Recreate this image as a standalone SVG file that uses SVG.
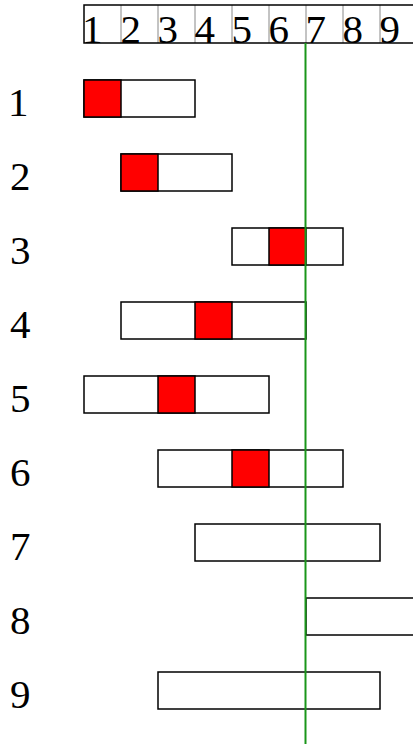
<svg xmlns="http://www.w3.org/2000/svg" width="413" height="744" viewBox="0 0 413 744">
<style>
.t{font-family:"Liberation Serif","Times New Roman",serif;font-size:41px;fill:#000}
.hd{fill:none;stroke:#888;stroke-width:1}
.bx{fill:#fff;stroke:#000;stroke-width:1.5}
.rd{fill:#ff0000;stroke:#000;stroke-width:1.5}
</style>
<rect width="413" height="744" fill="#fff"/>
<g id="header">
<line x1="121" y1="5" x2="121" y2="43" class="hd"/>
<line x1="158" y1="5" x2="158" y2="43" class="hd"/>
<line x1="195" y1="5" x2="195" y2="43" class="hd"/>
<line x1="232" y1="5" x2="232" y2="43" class="hd"/>
<line x1="269" y1="5" x2="269" y2="43" class="hd"/>
<line x1="306" y1="5" x2="306" y2="43" class="hd"/>
<line x1="343" y1="5" x2="343" y2="43" class="hd"/>
<line x1="380" y1="5" x2="380" y2="43" class="hd"/>
<text class="t" x="82" y="43">1</text>
<text class="t" x="120.5" y="43">2</text>
<text class="t" x="157.5" y="43">3</text>
<text class="t" x="194.5" y="43">4</text>
<text class="t" x="231.5" y="43">5</text>
<text class="t" x="268.5" y="43">6</text>
<text class="t" x="305.5" y="43">7</text>
<text class="t" x="342.5" y="43">8</text>
<text class="t" x="379.5" y="43">9</text>
<path d="M413 5H84V43H413" fill="none" stroke="#000" stroke-width="1.5"/>
</g>
<g id="row1"><text class="t" x="8" y="116">1</text><rect class="bx" x="84" y="80" width="111" height="37"/><rect class="rd" x="84" y="80" width="37" height="37"/></g>
<g id="row2"><text class="t" x="10" y="190">2</text><rect class="bx" x="121" y="154" width="111" height="37"/><rect class="rd" x="121" y="154" width="37" height="37"/></g>
<g id="row3"><text class="t" x="10" y="264">3</text><rect class="bx" x="232" y="228" width="111" height="37"/><rect class="rd" x="269" y="228" width="37" height="37"/></g>
<g id="row4"><text class="t" x="10" y="338">4</text><rect class="bx" x="121" y="302" width="185" height="37"/><rect class="rd" x="195" y="302" width="37" height="37"/></g>
<g id="row5"><text class="t" x="10" y="412">5</text><rect class="bx" x="84" y="376" width="185" height="37"/><rect class="rd" x="158" y="376" width="37" height="37"/></g>
<g id="row6"><text class="t" x="10" y="486">6</text><rect class="bx" x="158" y="450" width="185" height="37"/><rect class="rd" x="232" y="450" width="37" height="37"/></g>
<g id="row7"><text class="t" x="10" y="560">7</text><rect class="bx" x="195" y="524" width="185" height="37"/></g>
<g id="row8"><text class="t" x="10" y="634">8</text><rect class="bx" x="306" y="598" width="111" height="37"/></g>
<g id="row9"><text class="t" x="10" y="708">9</text><rect class="bx" x="158" y="672" width="222" height="37"/></g>
<g id="connectors">
<line x1="305.5" y1="43" x2="305.5" y2="744" stroke="#1a961a" stroke-width="2"/>
</g>
</svg>
